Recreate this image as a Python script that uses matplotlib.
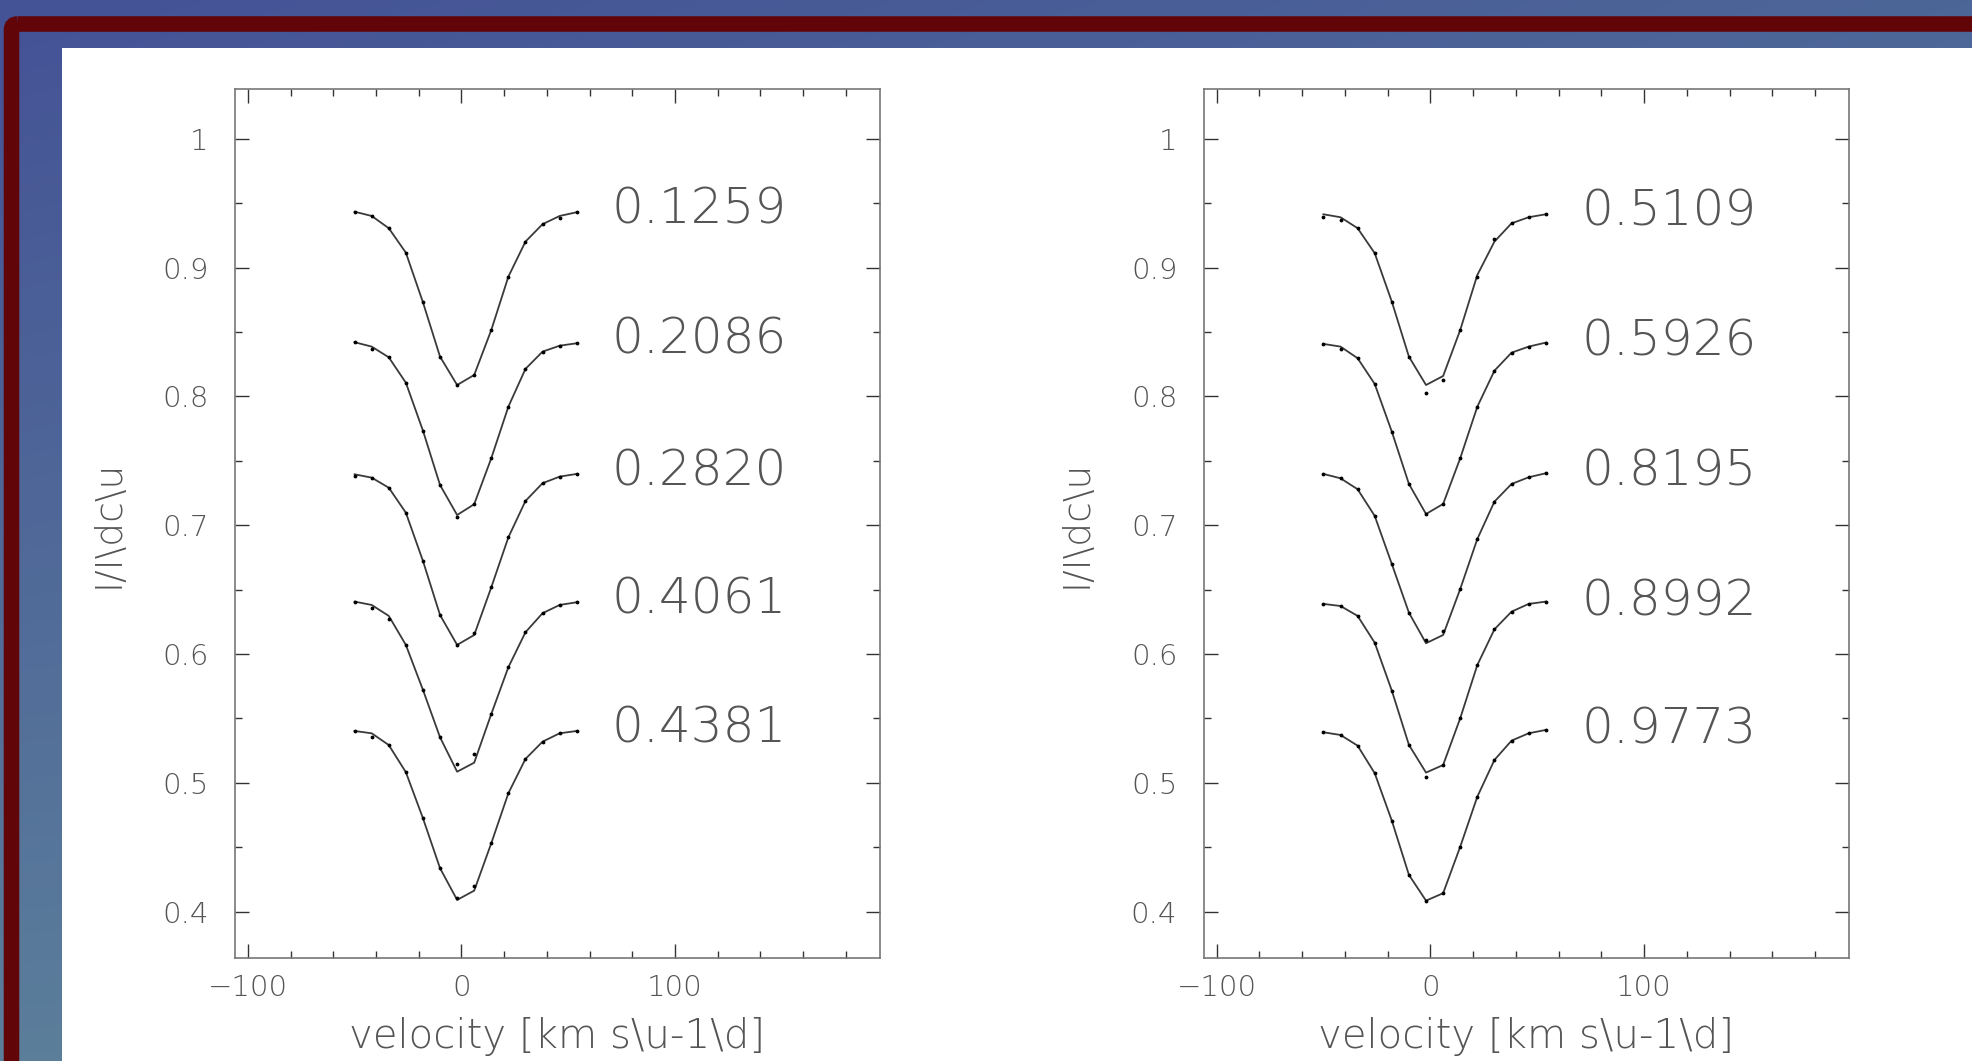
import numpy as np
from matplotlib import pyplot as plt
from matplotlib.patches import Rectangle, FancyBboxPatch
from matplotlib.ticker import FixedLocator, MultipleLocator

# velocity grid of the line profiles (km/s)
velocity = [-50, -42, -34, -26, -18, -10, -2, 6, 14, 22, 30, 38, 46, 54]

# left panel: phases, model profiles (lines), observed profiles (dots)
phases_left = ['0.1259', '0.2086', '0.2820', '0.4061', '0.4381']
model_left = [
    [0.9433, 0.9400, 0.9305, 0.9115, 0.8730, 0.8308, 0.8088, 0.8166, 0.8515, 0.8929, 0.9201, 0.9336, 0.9400, 0.9429],
    [0.8420, 0.8386, 0.8303, 0.8106, 0.7734, 0.7312, 0.7079, 0.7163, 0.7520, 0.7920, 0.8213, 0.8347, 0.8393, 0.8412],
    [0.7395, 0.7369, 0.7291, 0.7097, 0.6723, 0.6303, 0.6071, 0.6148, 0.6518, 0.6906, 0.7188, 0.7326, 0.7377, 0.7398],
    [0.6407, 0.6381, 0.6296, 0.6071, 0.5722, 0.5354, 0.5087, 0.5157, 0.5535, 0.5898, 0.6169, 0.6317, 0.6381, 0.6402],
    [0.5403, 0.5385, 0.5294, 0.5083, 0.4726, 0.4338, 0.4092, 0.4164, 0.4532, 0.4920, 0.5186, 0.5320, 0.5385, 0.5403],
]
obs_left = [
    [0.9433, 0.9400, 0.9305, 0.9115, 0.8730, 0.8308, 0.8088, 0.8166, 0.8515, 0.8929, 0.9201, 0.9336, 0.9382, 0.9429],
    [0.8420, 0.8370, 0.8303, 0.8106, 0.7734, 0.7312, 0.7062, 0.7163, 0.7520, 0.7920, 0.8213, 0.8347, 0.8393, 0.8412],
    [0.7382, 0.7369, 0.7291, 0.7097, 0.6723, 0.6303, 0.6071, 0.6166, 0.6518, 0.6906, 0.7188, 0.7326, 0.7377, 0.7398],
    [0.6407, 0.6355, 0.6270, 0.6071, 0.5722, 0.5354, 0.5145, 0.5227, 0.5535, 0.5898, 0.6169, 0.6317, 0.6381, 0.6402],
    [0.5403, 0.5359, 0.5294, 0.5083, 0.4726, 0.4338, 0.4109, 0.4200, 0.4532, 0.4920, 0.5186, 0.5320, 0.5385, 0.5403],
]

# right panel
phases_right = ['0.5109', '0.5926', '0.8195', '0.8992', '0.9773']
model_right = [
    [0.9413, 0.9390, 0.9305, 0.9111, 0.8735, 0.8308, 0.8088, 0.8158, 0.8515, 0.8942, 0.9201, 0.9343, 0.9390, 0.9413],
    [0.8407, 0.8386, 0.8296, 0.8096, 0.7726, 0.7320, 0.7087, 0.7165, 0.7520, 0.7920, 0.8199, 0.8339, 0.8386, 0.8417],
    [0.7398, 0.7364, 0.7279, 0.7072, 0.6699, 0.6321, 0.6084, 0.6148, 0.6505, 0.6893, 0.7183, 0.7320, 0.7372, 0.7403],
    [0.6389, 0.6373, 0.6296, 0.6088, 0.5716, 0.5295, 0.5080, 0.5139, 0.5502, 0.5915, 0.6192, 0.6329, 0.6389, 0.6407],
    [0.5393, 0.5372, 0.5289, 0.5075, 0.4707, 0.4286, 0.4086, 0.4144, 0.4505, 0.4893, 0.5178, 0.5328, 0.5385, 0.5411],
]
obs_right = [
    [0.9395, 0.9369, 0.9305, 0.9111, 0.8735, 0.8308, 0.8029, 0.8127, 0.8515, 0.8930, 0.9222, 0.9343, 0.9390, 0.9413],
    [0.8407, 0.8366, 0.8296, 0.8096, 0.7726, 0.7320, 0.7087, 0.7165, 0.7520, 0.7920, 0.8199, 0.8339, 0.8386, 0.8417],
    [0.7398, 0.7364, 0.7279, 0.7072, 0.6699, 0.6321, 0.6109, 0.6182, 0.6505, 0.6893, 0.7183, 0.7320, 0.7372, 0.7403],
    [0.6389, 0.6373, 0.6296, 0.6088, 0.5716, 0.5295, 0.5049, 0.5139, 0.5502, 0.5915, 0.6192, 0.6329, 0.6389, 0.6407],
    [0.5393, 0.5372, 0.5289, 0.5075, 0.4707, 0.4286, 0.4086, 0.4144, 0.4505, 0.4893, 0.5178, 0.5328, 0.5385, 0.5411],
]

xticks = [-100, 0, 100]
xtick_labels = ['\u2212100', '0', '100']
yticks = [0.4, 0.5, 0.6, 0.7, 0.8, 0.9, 1.0]
ytick_labels = ['0.4', '0.5', '0.6', '0.7', '0.8', '0.9', '1']

W, H = 1972, 1061
fig = plt.figure(figsize=(W / 100, H / 100), dpi=100)

# slide background: blue gradient, dark red frame, white sheet
bg = fig.add_axes([0, 0, 1, 1])
bg.set_xlim(0, W)
bg.set_ylim(H, 0)
bg.axis('off')
tl = np.array([68, 82, 150]) / 255
tr = np.array([77, 102, 152]) / 255
bl = np.array([91, 126, 155]) / 255
br = np.array([96, 136, 156]) / 255
u = np.linspace(0, 1, 200)[None, :, None]
v = np.linspace(0, 1, 120)[:, None, None]
grad = (1 - v) * ((1 - u) * tl + u * tr) + v * ((1 - u) * bl + u * br)
bg.imshow(grad, extent=(0, W, H, 0), aspect='auto', interpolation='bilinear')
bg.add_patch(FancyBboxPatch((11.5, 24), W + 100, H + 100,
                            boxstyle='round,pad=0,rounding_size=6',
                            fill=False, edgecolor='#610509', linewidth=11.2))
bg.add_patch(Rectangle((62, 48), W, H, facecolor='white', edgecolor='none'))


def draw_panel(rect, phases, models, observed):
    ax = fig.add_axes(rect)
    for ph, mod, obs in zip(phases, models, observed):
        ax.plot(velocity, mod, '-', color='#3a3a3a', lw=1.3)
        ax.plot(velocity, obs, '.', color='black', ms=3.5)
        ax.text(70.5, mod[0] + 0.002, ph, fontsize=36, color='#555555',
                fontweight='light', ha='left', va='center')
    ax.set_xlim(-106, 196)
    ax.set_ylim(0.3645, 1.0383)
    ax.xaxis.set_major_locator(FixedLocator(xticks))
    ax.set_xticklabels(xtick_labels)
    ax.xaxis.set_minor_locator(MultipleLocator(20))
    ax.yaxis.set_major_locator(FixedLocator(yticks))
    ax.set_yticklabels(ytick_labels)
    ax.yaxis.set_minor_locator(MultipleLocator(0.05))
    ax.tick_params(which='both', direction='in', top=True, right=True,
                   color='#333333', width=1.0)
    ax.tick_params(which='major', length=10)
    ax.tick_params(which='minor', length=5)
    ax.tick_params(axis='x', which='major', labelsize=21, labelcolor='#555555', pad=12)
    ax.tick_params(axis='y', which='major', labelsize=21, labelcolor='#555555', pad=19)
    for lab in ax.get_xticklabels() + ax.get_yticklabels():
        lab.set_fontweight('light')
    for sp in ax.spines.values():
        sp.set_color('#777777')
        sp.set_linewidth(1.2)
    ax.set_xlabel(r'velocity [km s\u-1\d]', fontsize=29, color='#555555', fontweight='light')
    ax.xaxis.set_label_coords(0.5, -0.068)
    ax.set_ylabel(r'I/I\dc\u', fontsize=27, color='#555555', fontweight='light')
    ax.yaxis.set_label_coords(-0.17, 0.5)
    return ax


draw_panel([235 / W, 1 - 957.5 / H, 645 / W, 868.2 / H], phases_left, model_left, obs_left)
draw_panel([1203.7 / W, 1 - 957.5 / H, 645.6 / W, 868.2 / H], phases_right, model_right, obs_right)

plt.savefig('out.png', dpi=100)
